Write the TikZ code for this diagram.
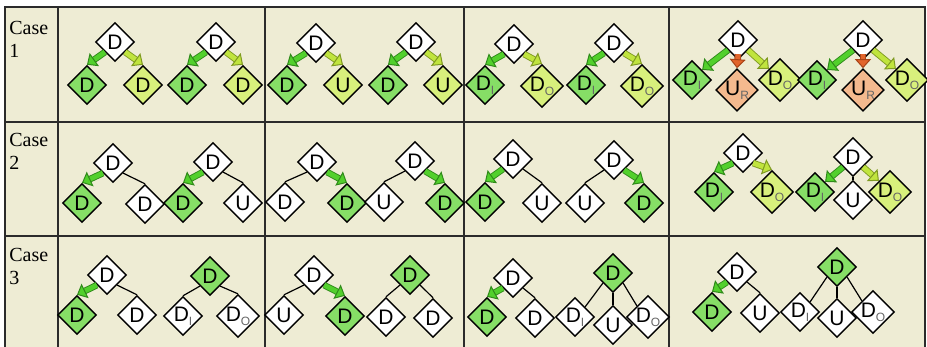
\documentclass[tikz,border=0pt]{standalone}
\usepackage{fontspec}
\setmainfont{Liberation Serif}
\newfontfamily\dfont{Liberation Sans}
\usetikzlibrary{arrows.meta,shapes.geometric}
\definecolor{sheet}{HTML}{EEECD4}
\definecolor{rule}{HTML}{2B2B2B}
\definecolor{inG}{HTML}{86DE66}
\definecolor{outY}{HTML}{D8F07C}
\definecolor{remR}{HTML}{F4B98E}
\definecolor{arG}{HTML}{52D02C}
\definecolor{arGd}{HTML}{2F8A1A}
\definecolor{arY}{HTML}{C0E43E}
\definecolor{arYd}{HTML}{7F9A22}
\definecolor{arR}{HTML}{E2652C}
\definecolor{arRd}{HTML}{A84418}
\newcommand\subtag[1]{\raisebox{-.35ex}{\fontsize{6}{6}\selectfont\color{black!60}#1}}

\begin{document}
\begin{tikzpicture}[x=.5pt,y=-.5pt,
 dia/.style={diamond,aspect=1,draw=black,line width=.7pt,minimum size=19.5pt,inner sep=0pt,fill=white,font=\dfont\fontsize{10.5}{12}\selectfont},
 dI/.style={dia,fill=inG},
 dO/.style={dia,fill=outY},
 uR/.style={dia,fill=remR},
 link/.style={draw=black,line width=.6pt},
 fat/.style 2 args={draw=#1,line width=2.4pt,-{Triangle[width=8pt,length=4.5pt,line width=.5pt,fill=#1,color=#2]},preaction={draw=#2,line width=3.3pt,-,shorten >=3pt}},
 arrG/.style={fat={arG}{arGd}},
 arrY/.style={fat={arY}{arYd}},
 arrR/.style={fat={arR}{arRd}},
 case/.style={anchor=north west,inner sep=0pt,align=left,font=\fontsize{10}{11.5}\selectfont},
 grid/.style={rule,line width=1pt}]
 \useasboundingbox (0,0) rectangle (927,347);
 \fill[sheet] (5,7) rectangle (925,347);
 \draw[grid] (5,347)--(5,7)--(925,7)--(925,347);
 \foreach \y in {122,236} \draw[grid] (5,\y)--(925,\y);
 \foreach \x in {58,265,464,669} \draw[grid] (\x,7)--(\x,347);
 \node[case] (k1) at (9,21) {Case\\1};
 \node[case] (k2) at (9,133) {Case\\2};
 \node[case] (k3) at (9,248) {Case\\3};
 % case 1
 \node[dia] (a11) at (115,42) {D};
 \node[dI] (a11l) at (87,85) {D};
 \node[dO] (a11r) at (143,85) {D};
 \draw[arrG] (a11.south west)--(a11l.north);
 \draw[arrY] (a11.south east)--(a11r.north);
 \node[dia] (a12) at (216,42) {D};
 \node[dI] (a12l) at (187,85) {D};
 \node[dO] (a12r) at (243,85) {D};
 \draw[arrG] (a12.south west)--(a12l.north);
 \draw[arrY] (a12.south east)--(a12r.north);
 \node[dia] (a21) at (316,43) {D};
 \node[dI] (a21l) at (287,85) {D};
 \node[dO] (a21r) at (343,85) {U};
 \draw[arrG] (a21.south west)--(a21l.north);
 \draw[arrY] (a21.south east)--(a21r.north);
 \node[dia] (a22) at (416,42) {D};
 \node[dI] (a22l) at (388,85) {D};
 \node[dO] (a22r) at (443,85) {U};
 \draw[arrG] (a22.south west)--(a22l.north);
 \draw[arrY] (a22.south east)--(a22r.north);
 \node[dia] (a31) at (514,44) {D};
 \node[dI] (a31l) at (485,85) {D\subtag{I}};
 \node[dO] (a31r) at (542,86) {D\subtag{O}};
 \draw[arrG] (a31.south west)--(a31l.north);
 \draw[arrY] (a31.south east)--(a31r.north);
 \node[dia] (a32) at (614,43) {D};
 \node[dI] (a32l) at (586,85) {D\subtag{I}};
 \node[dO] (a32r) at (642,86) {D\subtag{O}};
 \draw[arrG] (a32.south west)--(a32l.north);
 \draw[arrY] (a32.south east)--(a32r.north);
 \node[dia] (a41) at (738,40) {D};
 \node[dI] (a41l) at (692,80) {D\subtag{I}};
 \node[uR] (a41m) at (737,90) {U\subtag{R}};
 \node[dO] (a41r) at (780,80) {D\subtag{O}};
 \draw[arrG] (a41.south west)--(a41l.north east);
 \draw[arrR] ([yshift=3pt]a41.south)--(a41m.north);
 \draw[arrY] (a41.south east)--(a41r.north west);
 \node[dia] (a42) at (863,40) {D};
 \node[dI] (a42l) at (817,80) {D\subtag{I}};
 \node[uR] (a42m) at (863,90) {U\subtag{R}};
 \node[dO] (a42r) at (907,80) {D\subtag{O}};
 \draw[arrG] (a42.south west)--(a42l.north east);
 \draw[arrR] ([yshift=3pt]a42.south)--(a42m.north);
 \draw[arrY] (a42.south east)--(a42r.north west);
 % case 2
 \node[dia] (b11) at (113,163) {D};
 \node[dI] (b11l) at (82,203) {D};
 \node[dia] (b11r) at (145,204) {D};
 \draw[arrG] (b11.south west)--(b11l.north);
 \draw[link] (b11.south east)--(b11r.north);
 \node[dia] (b12) at (213,162) {D};
 \node[dI] (b12l) at (183,203) {D};
 \node[dia] (b12r) at (243,203) {U};
 \draw[arrG] (b12.south west)--(b12l.north);
 \draw[link] (b12.south east)--(b12r.north);
 \node[dia] (b21) at (317,162) {D};
 \node[dia] (b21l) at (285,202) {D};
 \node[dI] (b21r) at (347,203) {D};
 \draw[link] (b21.south west)--(b21l.north);
 \draw[arrG] (b21.south east)--(b21r.north);
 \node[dia] (b22) at (415,161) {D};
 \node[dia] (b22l) at (384,202) {U};
 \node[dI] (b22r) at (445,203) {D};
 \draw[link] (b22.south west)--(b22l.north);
 \draw[arrG] (b22.south east)--(b22r.north);
 \node[dia] (b31) at (513,159) {D};
 \node[dI] (b31l) at (485,202) {D};
 \node[dia] (b31r) at (542,203) {U};
 \draw[arrG] (b31.south west)--(b31l.north);
 \draw[link] (b31.south east)--(b31r.north);
 \node[dia] (b32) at (614,160) {D};
 \node[dia] (b32l) at (585,203) {U};
 \node[dI] (b32r) at (644,203) {D};
 \draw[link] (b32.south west)--(b32l.north);
 \draw[arrG] (b32.south east)--(b32r.north);
 \node[dia] (b41) at (743,153) {D};
 \node[dI] (b41l) at (714,192) {D\subtag{I}};
 \node[dO] (b41r) at (772,192) {D\subtag{O}};
 \draw[arrG] (b41.south west)--(b41l.north);
 \draw[arrY] (b41.south east)--(b41r.north);
 \node[dia] (b42) at (853,157) {D};
 \node[dI] (b42l) at (815,192) {D\subtag{I}};
 \node[dia] (b42m) at (853,200) {U};
 \node[dO] (b42r) at (890,192) {D\subtag{O}};
 \draw[arrG] (b42.south west)--(b42l.north east);
 \draw[link] (b42.south)--(b42m.north);
 \draw[arrY] (b42.south east)--(b42r.north west);
 % case 3
 \node[dia] (c11) at (107,275) {D};
 \node[dI] (c11l) at (77,315) {D};
 \node[dia] (c11r) at (137,315) {D};
 \draw[arrG] (c11.south west)--(c11l.north);
 \draw[link] (c11.south east)--(c11r.north);
 \node[dI] (c12) at (210,276) {D};
 \node[dia] (c12l) at (183,316) {D\subtag{I}};
 \node[dia] (c12r) at (238,316) {D\subtag{O}};
 \draw[link] (c12.south west)--(c12l.north);
 \draw[link] (c12.south east)--(c12r.north);
 \node[dia] (c21) at (314,275) {D};
 \node[dia] (c21l) at (284,315) {U};
 \node[dI] (c21r) at (345,316) {D};
 \draw[link] (c21.south west)--(c21l.north);
 \draw[arrG] (c21.south east)--(c21r.north);
 \node[dI] (c22) at (410,275) {D};
 \node[dia] (c22l) at (386,317) {D};
 \node[dia] (c22r) at (433,318) {D};
 \draw[link] (c22.south west)--(c22l.north);
 \draw[link] (c22.south east)--(c22r.north);
 \node[dia] (c31) at (513,278) {D};
 \node[dI] (c31l) at (487,317) {D};
 \node[dia] (c31r) at (535,318) {D};
 \draw[arrG] (c31.south west)--(c31l.north);
 \draw[link] (c31.south east)--(c31r.north);
 \node[dI] (c32) at (613,273) {D};
 \node[dia] (c32l) at (575,317) {D\subtag{I}};
 \node[dia] (c32m) at (613,325) {U};
 \node[dia] (c32r) at (648,317) {D\subtag{O}};
 \draw[link] (c32.south west)--(c32l.north east);
 \draw[link] (c32.south)--(c32m.north);
 \draw[link] (c32.south east)--(c32r.north west);
 \node[dia] (c41) at (737,272) {D};
 \node[dI] (c41l) at (712,312) {D};
 \node[dia] (c41r) at (760,313) {U};
 \draw[arrG] (c41.south west)--(c41l.north);
 \draw[link] (c41.south east)--(c41r.north);
 \node[dI] (c42) at (837,267) {D};
 \node[dia] (c42l) at (800,312) {D\subtag{I}};
 \node[dia] (c42m) at (837,318) {U};
 \node[dia] (c42r) at (873,312) {D\subtag{O}};
 \draw[link] (c42.south west)--(c42l.north east);
 \draw[link] (c42.south)--(c42m.north);
 \draw[link] (c42.south east)--(c42r.north west);
\end{tikzpicture}
\end{document}
